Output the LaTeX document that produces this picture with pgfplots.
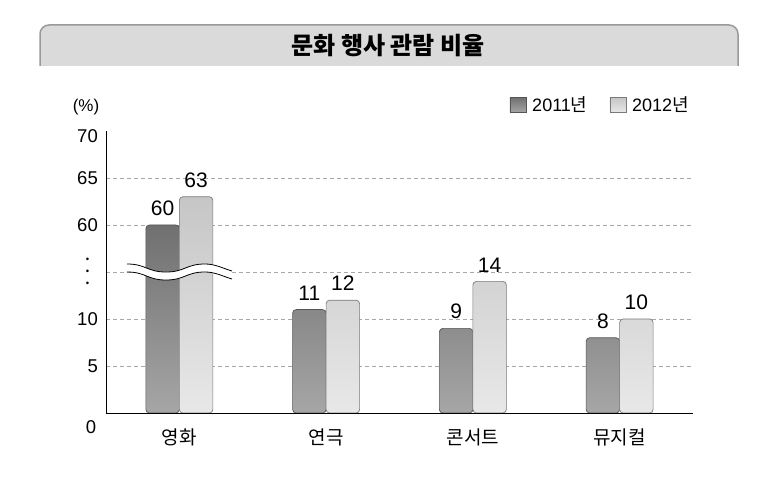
\documentclass[border=0pt]{standalone}
\usepackage{fontspec}
\setmainfont{Liberation Sans}
\newfontfamily\kr{Noto Sans CJK KR}
\usepackage{pgfplots}
\pgfplotsset{compat=1.18}
\usepackage{pgfplotstable}

% values on a broken axis: plotted y = value + 1 (<=10) or value - 39 (>=60)
\pgfplotstableread{
x y l
0 21 60
1 12 11
2 10 9
3 9 8
}\dataA
\pgfplotstableread{
x y l
0 24 63
1 13 12
2 15 14
3 11 10
}\dataB

\definecolor{gridc}{HTML}{A8A8A8}
\definecolor{bannerfill}{HTML}{DADADA}
\definecolor{bannerline}{HTML}{9A9A9A}
\definecolor{aTop}{HTML}{707070}
\definecolor{aBot}{HTML}{A6A6A6}
\definecolor{aEdge}{HTML}{555555}
\definecolor{bTop}{HTML}{C6C6C6}
\definecolor{bBot}{HTML}{E8E8E8}
\definecolor{bEdge}{HTML}{7A7A7A}

\newcommand\brkdots{\vbox{\fontsize{9.5bp}{12bp}\selectfont\baselineskip=12bp\lineskiplimit=-20bp\hbox{\textbullet\kern8.5bp}\hbox{\textbullet\kern8.5bp}\hbox{\textbullet\kern8.5bp}}}

\begin{document}
\begin{tikzpicture}
\useasboundingbox (0bp,0bp) rectangle (784bp,480bp);
\begin{scope}[x=1bp,y=1bp]
% title banner
\fill[bannerfill] (40,414) -- (40,446) arc[start angle=180,end angle=90,radius=9] -- (729,455) arc[start angle=90,end angle=0,radius=9] -- (738,414) -- cycle;
\draw[bannerline, line width=1.5bp] (40,414) -- (40,446) arc[start angle=180,end angle=90,radius=9] -- (729,455) arc[start angle=90,end angle=0,radius=9] -- (738,414);
\node[font=\kr\bfseries\fontsize{24bp}{26bp}\selectfont] at (388,434) {문화 행사 관람 비율};
\node[font=\fontsize{17bp}{19bp}\selectfont] at (86,373) {(\%)};
\node[font=\fontsize{18.5bp}{20bp}\selectfont] at (91,53) {0};
\end{scope}

\begin{axis}[
  at={(106bp,67bp)}, anchor=south west, scale only axis,
  width=587bp, height=282bp,
  xmin=-0.5, xmax=3.5, ymin=1, ymax=31,
  axis lines*=left,
  axis line style={black, line width=0.8bp},
  ybar=0pt, bar width=33.5bp,
  xtick={0,1,2,3},
  xticklabels={영화,연극,콘서트,뮤지컬},
  xticklabel style={font=\kr\fontsize{19bp}{20bp}\selectfont, inner sep=0pt, yshift=-11bp},
  xtick style={draw=none},
  extra x ticks={0.5,1.5,2.5,3.5},
  extra x tick labels={},
  extra x tick style={tick style={draw=black, line width=0.8bp}, major tick length=6bp, tick align=inside},
  ytick={6,11,16,21,26},
  yticklabels={5,10,\brkdots,60,65},
  ytick style={draw=none},
  yticklabel style={font=\fontsize{18.5bp}{20bp}\selectfont, inner sep=0pt, xshift=-8bp},
  extra y ticks={31}, extra y tick labels={70},
  extra y tick style={grid=none, yticklabel style={yshift=-5bp}},
  ymajorgrids,
  grid style={gridc, dash pattern=on 4bp off 3bp, line width=0.6bp},
  /pgf/number format/assume math mode=true,
  nodes near coords, point meta=explicit symbolic,
  nodes near coords style={font=\fontsize{21bp}{22bp}\selectfont, anchor=south, inner sep=0pt, yshift=9bp},
  legend columns=2,
  legend style={draw=none, fill=none, at={(1,1)}, anchor=east, yshift=26bp, xshift=2bp,
    font=\fontsize{18bp}{20bp}\selectfont,
    nodes={inner xsep=3bp, inner ysep=0pt},
    /tikz/every odd column/.append style={column sep=3bp},
    /tikz/every even column/.append style={column sep=19bp}},
  legend image code/.code={\draw[#1, rounded corners=0pt] (0bp,-7.5bp) rectangle (16bp,7.5bp);},
]
\addplot[draw=aEdge, top color=aTop, bottom color=aBot, rounded corners=3.5bp, line width=0.7bp]
  table[x=x, y=y, meta=l]{\dataA};
\addlegendentry{2011{\kr 년}}
\addplot[draw=bEdge, top color=bTop, bottom color=bBot, rounded corners=3.5bp, line width=0.7bp]
  table[x=x, y=y, meta=l]{\dataB};
\addlegendentry{2012{\kr 년}}
\end{axis}

\begin{scope}[x=1bp,y=1bp]
% axis break
\fill[white] (127,216) .. controls (146,216) and (147,208) .. (166,208) .. controls (185,208) and (186,216) .. (205,216) .. controls (215,216) and (222,212) .. (232,209)
  -- (232,201) .. controls (222,204) and (215,208) .. (205,208) .. controls (186,208) and (185,200) .. (166,200) .. controls (147,200) and (146,208) .. (127,208) -- cycle;
\draw[black, line width=0.8bp] (127,216) .. controls (146,216) and (147,208) .. (166,208) .. controls (185,208) and (186,216) .. (205,216) .. controls (215,216) and (222,212) .. (232,209);
\draw[black, line width=0.8bp] (127,208) .. controls (146,208) and (147,200) .. (166,200) .. controls (185,200) and (186,208) .. (205,208) .. controls (215,208) and (222,204) .. (232,201);
\end{scope}
\end{tikzpicture}
\end{document}
